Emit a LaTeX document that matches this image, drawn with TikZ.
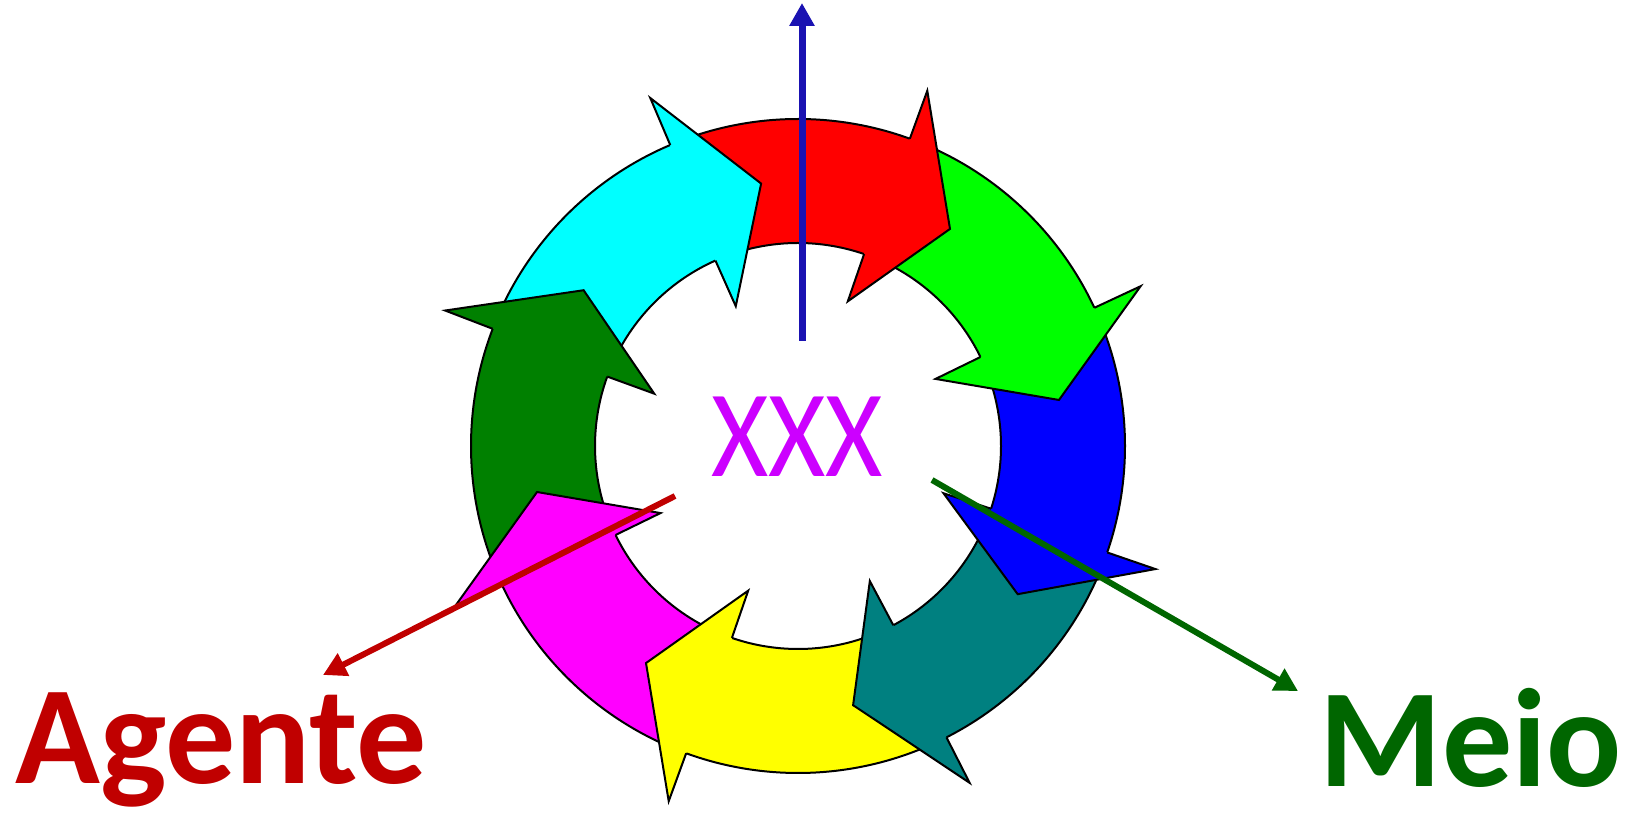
\documentclass[tikz,border=0pt]{standalone}
\usepackage{fontspec}
\setmainfont{Carlito}
\usetikzlibrary{arrows.meta}
\definecolor{agente}{RGB}{192,0,0}
\definecolor{meio}{RGB}{0,102,0}
\definecolor{eixo}{RGB}{26,18,178}
\definecolor{roxo}{RGB}{204,0,255}
\definecolor{vermelho}{RGB}{255,0,0}
\definecolor{verdeclaro}{RGB}{0,255,0}
\definecolor{azul}{RGB}{0,0,255}
\definecolor{petroleo}{RGB}{0,128,128}
\definecolor{amarelo}{RGB}{255,255,0}
\definecolor{rosa}{RGB}{255,0,255}
\definecolor{verdeesc}{RGB}{0,128,0}
\definecolor{ciano}{RGB}{0,255,255}

\begin{document}
\begin{tikzpicture}[x=0.5pt,y=0.5pt,>={Triangle[length=11.5pt,width=12pt]},
  contorno/.style={draw=black,line width=1pt,line join=miter}]
  \useasboundingbox (0,0) rectangle (1633,813);
  \coordinate (c) at (798,367);
  % corpos
  \foreach \cor/\a [evaluate=\a as \t using \a+57, evaluate=\a as \e using \a+12,
      evaluate=\a as \h using \a+15, evaluate=\a as \k using \a+16] in
      {vermelho/55,verdeclaro/10,azul/-34,petroleo/-78,amarelo/-125,rosa/-170,verdeesc/-216,ciano/-262}{
    \fill[\cor] ([shift={(\t:327)}]c) arc[start angle=\t,end angle=\e,radius=327]
      -- ([shift={(\e:203)}]c) arc[start angle=\e,end angle=\t,radius=203] -- cycle;
    \draw[contorno] ([shift={(\t:327)}]c) arc[start angle=\t,end angle=\h,radius=327];
    \draw[contorno] ([shift={(\t:203)}]c) arc[start angle=\t,end angle=\k,radius=203];
  }
  % pontas
  \foreach \cor/\a [evaluate=\a as \h using \a+15, evaluate=\a as \k using \a+16] in
      {vermelho/55,verdeclaro/10,azul/-34,petroleo/-78,amarelo/-125,rosa/-170,verdeesc/-216,ciano/-262}{
    \filldraw[fill=\cor,contorno] ([shift={(\h:327)}]c) -- ([shift={(\h:378)}]c)
      -- ([shift={(\a:265)}]c) -- ([shift={(\k:153)}]c) -- ([shift={(\k:203)}]c);
  }
  \node[text=roxo,font=\fontsize{62}{70}\selectfont,anchor=base,xscale=0.89,inner sep=0pt] (xxx) at (797,336) {XXX};
  \node[text=agente,font=\bfseries\fontsize{70}{80}\selectfont,anchor=base,inner sep=0pt] (agente) at (221,29) {Agente};
  \node[text=meio,font=\bfseries\fontsize{70}{80}\selectfont,anchor=base,inner sep=0pt] (meio) at (1471,26) {Meio};
  \coordinate (b0) at (802,472);
  \coordinate (b1) at (802,810);
  \coordinate (r0) at (675,317);
  \coordinate (r1) at (323,138);
  \coordinate (g0) at (932,333);
  \coordinate (g1) at (1298,122);
  \draw[->,eixo,line width=3.5pt] (b0) -- (b1);
  \draw[->,agente,line width=3pt] (r0) -- (r1);
  \draw[->,meio,line width=3pt] (g0) -- (g1);
\end{tikzpicture}
\end{document}
